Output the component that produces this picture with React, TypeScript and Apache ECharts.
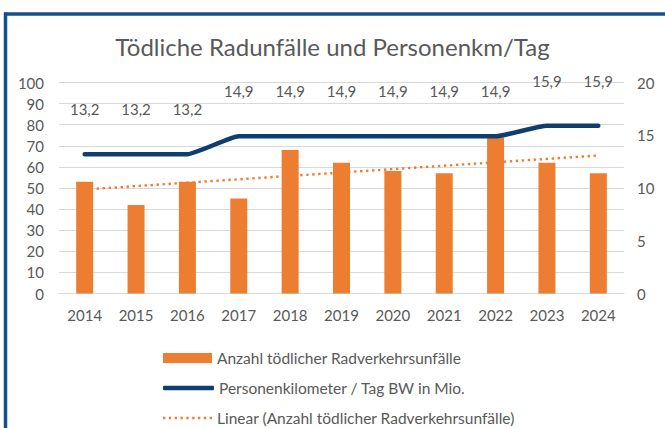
import React, { useEffect, useRef } from "react";
import * as echarts from "echarts";

const years = ["2014", "2015", "2016", "2017", "2018", "2019", "2020", "2021", "2022", "2023", "2024"];
const accidents = [53, 42, 53, 45, 68, 62, 58, 57, 74, 62, 57];
const personKm = [13.2, 13.2, 13.2, 14.9, 14.9, 14.9, 14.9, 14.9, 14.9, 15.9, 15.9];
const trendYears = ["2014", "2024"];
const trendValues = [49.3, 65.4];

const nameBar = "Anzahl tödlicher Radverkehrsunfälle";
const nameLine = "Personenkilometer / Tag BW in Mio.";
const nameTrend = "Linear (Anzahl tödlicher Radverkehrsunfälle)";

const FONT = "Lato, 'Noto Sans', sans-serif";
const GRAY = "#595959";
const ORANGE = "#ed7d31";
const NAVY = "#0e3d70";

// dotted legend icon: 9 small squares
const dotIcon =
  "path://" +
  Array.from({ length: 9 }, (_, i) => `M${i * 6},0h2.4v2.4h-2.4z`).join(" ");

const legendBase = {
  orient: "horizontal",
  left: 158,
  itemWidth: 49,
  itemGap: 4,
  selectedMode: false,
  textStyle: { fontFamily: FONT, fontSize: 15.5, color: GRAY },
};

export default function App() {
  const ref = useRef<HTMLDivElement>(null);
  useEffect(() => {
    if (!ref.current) return;
    const chart = echarts.init(ref.current, null, { renderer: "svg" });
    chart.setOption({
      animation: false,
      backgroundColor: "#ffffff",
      textStyle: { fontFamily: FONT },
      title: {
        text: "Tödliche Radunfälle und Personenkm/Tag",
        left: "center",
        top: 29,
        textStyle: { fontFamily: FONT, fontSize: 24, fontWeight: "normal", color: GRAY },
      },
      graphic: [
        { type: "line", shape: { x1: 5.5, y1: 12.5, x2: 5.5, y2: 428 }, style: { stroke: "#14508a", lineWidth: 3.5 } },
        { type: "line", shape: { x1: 4, y1: 14, x2: 665, y2: 14 }, style: { stroke: "#14508a", lineWidth: 3.5 } },
      ],
      legend: [
        { ...legendBase, top: 345, itemHeight: 10, data: [{ name: nameBar, icon: "rect" }] },
        { ...legendBase, top: 375, itemHeight: 4.5, itemWidth: 51, data: [{ name: nameLine, icon: "roundRect" }] },
        { ...legendBase, top: 405, itemHeight: 2.4, data: [{ name: nameTrend, icon: dotIcon }] },
      ],
      grid: { left: 59, right: 41, top: 82.5, bottom: 134.5 },
      xAxis: {
        type: "category",
        data: years,
        axisTick: { show: false },
        axisLine: { lineStyle: { color: "#d9d9d9", width: 1 } },
        axisLabel: { color: GRAY, fontSize: 15, margin: 14, fontFamily: FONT },
      },
      yAxis: [
        {
          type: "value",
          min: 0,
          max: 100,
          interval: 10,
          axisLine: { show: false },
          axisTick: { show: false },
          axisLabel: { color: GRAY, fontSize: 15, margin: 15, fontFamily: FONT },
          splitLine: { lineStyle: { color: "#d9d9d9", width: 1 } },
        },
        {
          type: "value",
          min: 0,
          max: 20,
          interval: 5,
          axisLine: { show: false },
          axisTick: { show: false },
          axisLabel: { color: GRAY, fontSize: 15, margin: 13, fontFamily: FONT },
          splitLine: { show: false },
        },
      ],
      series: [
        {
          name: nameBar,
          type: "bar",
          data: accidents,
          barWidth: 17,
          itemStyle: { color: ORANGE },
        },
        {
          name: nameTrend,
          type: "line",
          data: trendYears.map((y, i) => [y, trendValues[i]]),
          symbol: "none",
          lineStyle: { color: ORANGE, width: 2.4, type: [2.4, 3.6] },
          itemStyle: { color: ORANGE },
          z: 3,
        },
        {
          name: nameLine,
          type: "line",
          yAxisIndex: 1,
          data: personKm,
          symbol: "circle",
          symbolSize: 1,
          showSymbol: true,
          smooth: 0.15,
          smoothMonotone: "x",
          lineStyle: { color: NAVY, width: 4.5, cap: "round" },
          itemStyle: { color: NAVY },
          label: {
            show: true,
            position: "top",
            distance: 37,
            color: GRAY,
            fontSize: 15,
            fontFamily: FONT,
            formatter: (p: any) => Number(p.value).toFixed(1).replace(".", ","),
          },
          z: 4,
        },
      ],
    });
    return () => chart.dispose();
  }, []);
  return (
    <div
      ref={ref}
      style={{ position: "fixed", left: 0, top: 0, width: 665, height: 428 }}
    />
  );
}
